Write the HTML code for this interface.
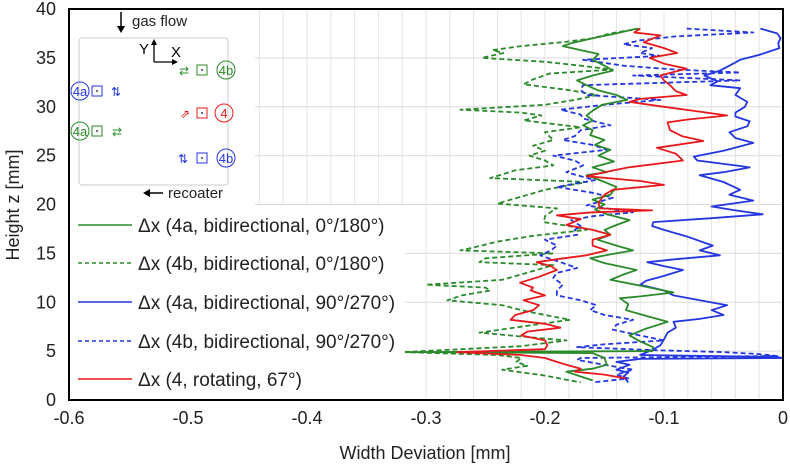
<!DOCTYPE html>
<html><head><meta charset="utf-8"><style>
html,body{margin:0;padding:0;background:#fff}
svg{display:block;font-family:"Liberation Sans",sans-serif}
</style></head><body>
<svg id="chart" width="790" height="467" viewBox="0 0 790 467">
<g id="grid"></g>
<g id="series"></g>
<rect x="70" y="10" width="185" height="195" fill="#fff"/>
<rect x="70" y="205" width="335" height="194" fill="#fff"/>
<g font-size="15">
  <rect x="79" y="38" width="149" height="147" rx="3" fill="none" stroke="#ccc"/>
  <line x1="121" y1="12" x2="121" y2="29" stroke="#000" stroke-width="1.5"/><path d="M117,26 L121,33 L125,26Z" fill="#000"/>
  <text x="132" y="26" fill="#222">gas flow</text>
  <line x1="148" y1="193" x2="163" y2="193" stroke="#000" stroke-width="1.5"/><path d="M150,189 L143,193 L150,197Z" fill="#000"/>
  <text x="168" y="198" fill="#222">recoater</text>
  <path d="M154,62 L154,44 M154,62 L173,62" stroke="#000" stroke-width="1.3" fill="none"/>
  <path d="M151,45 L154,39 L157,45Z M172,59 L178,62 L172,65Z" fill="#000"/>
  <text x="139" y="54">Y</text>
  <text x="171" y="57">X</text>
  <g fill="none" stroke-width="1">
    <circle cx="226" cy="70" r="9" stroke="#2a8a2a"/><rect x="197" y="65" width="10" height="10" stroke="#2a8a2a"/>
    <circle cx="80" cy="91" r="9" stroke="#2436e0"/><rect x="92" y="86" width="10" height="10" stroke="#2436e0"/>
    <circle cx="224" cy="113" r="9" stroke="#e8191d"/><rect x="197" y="108" width="10" height="10" stroke="#e8191d"/>
    <circle cx="80" cy="131" r="9" stroke="#2a8a2a"/><rect x="92" y="126" width="10" height="10" stroke="#2a8a2a"/>
    <circle cx="226" cy="158" r="9" stroke="#2436e0"/><rect x="197" y="153" width="10" height="10" stroke="#2436e0"/>
  </g>
  <g font-size="13">
    <text x="226" y="75" text-anchor="middle" fill="#2a8a2a">4b</text>
    <text x="80" y="96" text-anchor="middle" fill="#2436e0">4a</text>
    <text x="224" y="118" text-anchor="middle" fill="#e8191d">4</text>
    <text x="80" y="136" text-anchor="middle" fill="#2a8a2a">4a</text>
    <text x="226" y="163" text-anchor="middle" fill="#2436e0">4b</text>
    <text x="184" y="75" text-anchor="middle" fill="#2a8a2a" font-size="12">⇄</text>
    <text x="116" y="96" text-anchor="middle" fill="#2436e0" font-size="12">⇅</text>
    <text x="185" y="118" text-anchor="middle" fill="#e8191d" font-size="12">⇗</text>
    <text x="117" y="136" text-anchor="middle" fill="#2a8a2a" font-size="12">⇄</text>
    <text x="183" y="163" text-anchor="middle" fill="#2436e0" font-size="12">⇅</text>
  </g>
  <g fill="#444"><circle cx="202" cy="70" r="1"/><circle cx="97" cy="91" r="1"/><circle cx="202" cy="113" r="1"/><circle cx="97" cy="131" r="1"/><circle cx="202" cy="158" r="1"/></g>
</g>
<g id="legend" font-size="19" fill="#222">
  <g><line x1="78" y1="225" x2="132" y2="225" stroke="#2a8a2a" stroke-width="1.6"/><text x="138" y="232">Δx (4a, bidirectional, 0°/180°)</text></g>
  <g><line x1="78" y1="263" x2="132" y2="263" stroke="#2a8a2a" stroke-width="1.6" stroke-dasharray="4,3"/><text x="138" y="270">Δx (4b, bidirectional, 0°/180°)</text></g>
  <g><line x1="78" y1="302" x2="132" y2="302" stroke="#2436e0" stroke-width="1.6"/><text x="138" y="309">Δx (4a, bidirectional, 90°/270°)</text></g>
  <g><line x1="78" y1="341" x2="132" y2="341" stroke="#2436e0" stroke-width="1.6" stroke-dasharray="4,3"/><text x="138" y="348">Δx (4b, bidirectional, 90°/270°)</text></g>
  <g><line x1="78" y1="379" x2="132" y2="379" stroke="#e8191d" stroke-width="1.6"/><text x="138" y="386">Δx (4, rotating, 67°)</text></g>
</g>
<rect x="69" y="9" width="714" height="391" fill="none" stroke="#000" stroke-width="2"/>
<g id="axes" font-size="18" fill="#222"></g>
<text x="425" y="459" text-anchor="middle" font-size="18" fill="#222">Width Deviation [mm]</text>
<text transform="translate(19,205) rotate(-90)" text-anchor="middle" font-size="18" fill="#222">Height z [mm]</text>
</svg>
<script>
const xTicks=[-0.6,-0.5,-0.4,-0.3,-0.2,-0.1,0];
const xTickLabels=["-0.6","-0.5","-0.4","-0.3","-0.2","-0.1","0"];
const yTicks=[0,5,10,15,20,25,30,35,40];
const yTickLabels=["0","5","10","15","20","25","30","35","40"];
const green4a=[[38,-0.123],[37.5,-0.14],[37,-0.16],[36.5,-0.178],[36.2,-0.185],[35.8,-0.17],[35.4,-0.155],[34.8,-0.16],[34.2,-0.15],[33.7,-0.143],[33.2,-0.16],[32.7,-0.173],[32.2,-0.165],[31.7,-0.156],[31.2,-0.14],[30.7,-0.131],[30.2,-0.152],[29.6,-0.16],[29.1,-0.165],[28.6,-0.16],[28.1,-0.168],[27.6,-0.16],[27.1,-0.162],[26.6,-0.15],[26.1,-0.158],[25.6,-0.145],[25,-0.155],[24.4,-0.142],[23.8,-0.16],[23.3,-0.148],[23,-0.165],[22.4,-0.152],[21.8,-0.14],[21,-0.145],[20.5,-0.16],[20,-0.15],[19.5,-0.158],[19,-0.148],[18.4,-0.129],[17.9,-0.14],[17.4,-0.15],[16.9,-0.145],[16.4,-0.156],[15.8,-0.14],[15.3,-0.126],[14.9,-0.145],[14.5,-0.162],[14,-0.15],[13.3,-0.123],[12.8,-0.135],[12.3,-0.145],[11.7,-0.12],[11,-0.092],[10.6,-0.12],[10.4,-0.137],[9.8,-0.13],[9.2,-0.132],[8.6,-0.115],[8,-0.097],[7.3,-0.115],[6.6,-0.129],[6,-0.12],[5.4,-0.109],[5.0,-0.11],[4.9,-0.32],[4.8,-0.16],[4.3,-0.15],[3.6,-0.148],[3.2,-0.16],[2.9,-0.182],[2.4,-0.17],[2,-0.16]];
const green4b=[[38,-0.12],[37.5,-0.145],[37,-0.16],[36.6,-0.185],[36.2,-0.22],[35.8,-0.244],[35.5,-0.235],[35,-0.253],[34.6,-0.2],[34.2,-0.17],[33.8,-0.143],[33.4,-0.196],[32.8,-0.21],[32.3,-0.218],[31.7,-0.18],[31.2,-0.156],[30.7,-0.175],[30.2,-0.2],[29.7,-0.271],[29.4,-0.22],[29.1,-0.203],[28.6,-0.218],[27.9,-0.17],[27.4,-0.2],[26.6,-0.193],[26,-0.21],[25.5,-0.2],[25,-0.213],[24.5,-0.2],[24,-0.193],[23.5,-0.225],[22.7,-0.246],[22.3,-0.165],[21.5,-0.2],[20.8,-0.22],[20.1,-0.24],[19.6,-0.19],[19.4,-0.193],[18.8,-0.2],[18.2,-0.201],[17.8,-0.18],[17.4,-0.165],[16.8,-0.21],[16.2,-0.24],[15.6,-0.26],[15.3,-0.271],[15,-0.193],[14.5,-0.25],[14.1,-0.255],[13.8,-0.193],[13.2,-0.21],[12.3,-0.236],[11.8,-0.3],[11.5,-0.25],[11.2,-0.246],[10.7,-0.27],[10.2,-0.282],[9.7,-0.236],[9.2,-0.22],[8.7,-0.2],[8.2,-0.179],[7.5,-0.22],[6.9,-0.255],[6.5,-0.22],[6.1,-0.182],[5.5,-0.22],[4.9,-0.32],[4.6,-0.24],[4.3,-0.22],[3.9,-0.224],[3.5,-0.215],[3.1,-0.236],[2.5,-0.2],[1.8,-0.17]];
const blue4a=[[38,-0.019],[37.5,-0.005],[37,-0.002],[36.5,-0.004],[36,-0.003],[35.3,-0.02],[34.8,-0.036],[34.2,-0.045],[33.7,-0.053],[33.2,-0.066],[32.6,-0.055],[32.2,-0.061],[31.9,-0.036],[31.2,-0.04],[30.5,-0.03],[30,-0.032],[29.4,-0.04],[29,-0.04],[28.5,-0.028],[28,-0.03],[27.4,-0.045],[26.8,-0.04],[26.3,-0.025],[25.5,-0.05],[24.9,-0.075],[24.5,-0.072],[24,-0.04],[23.8,-0.028],[23.3,-0.05],[23,-0.07],[22.3,-0.05],[21.5,-0.036],[21,-0.045],[20.4,-0.025],[19.8,-0.06],[19.4,-0.04],[19,-0.017],[18.6,-0.06],[18.2,-0.109],[17.8,-0.11],[17.4,-0.1],[16.7,-0.08],[15.8,-0.059],[15.3,-0.07],[14.8,-0.053],[14.4,-0.09],[14.1,-0.114],[13.7,-0.1],[13.3,-0.084],[12.7,-0.1],[12.2,-0.115],[11.8,-0.12],[11.2,-0.1],[10.7,-0.092],[10.2,-0.07],[9.7,-0.047],[9.2,-0.06],[8.7,-0.05],[8.3,-0.07],[8,-0.092],[7.4,-0.09],[6.9,-0.097],[6.2,-0.1],[5.6,-0.103],[5.1,-0.11],[4.6,-0.12],[4.4,-0.005],[4.3,0],[4.2,-0.12],[3.9,-0.14],[3.6,-0.129],[3.1,-0.14],[2.8,-0.13],[2.4,-0.134],[1.8,-0.13]];
const blue4b=[[38,-0.081],[37.6,-0.025],[37.2,-0.09],[36.8,-0.12],[36.4,-0.134],[36,-0.11],[35.5,-0.12],[35.2,-0.103],[34.8,-0.168],[34.2,-0.134],[33.8,-0.09],[33.5,-0.036],[33.2,-0.126],[32.7,-0.036],[32.2,-0.168],[31.7,-0.17],[31.2,-0.165],[30.7,-0.103],[30.2,-0.15],[29.7,-0.187],[29.2,-0.17],[28.8,-0.168],[28.1,-0.145],[27.6,-0.17],[27,-0.175],[26.6,-0.185],[26.1,-0.16],[25.6,-0.148],[25,-0.193],[24.5,-0.175],[24,-0.168],[23.3,-0.182],[22.9,-0.17],[22.5,-0.158],[21.8,-0.19],[21.2,-0.16],[20.7,-0.143],[19.9,-0.165],[19.2,-0.126],[18.8,-0.16],[18.4,-0.178],[17.8,-0.17],[17.4,-0.175],[16.9,-0.173],[16.4,-0.2],[15.8,-0.19],[15.3,-0.195],[14.8,-0.204],[14.1,-0.187],[13.5,-0.173],[13,-0.19],[12.5,-0.193],[11.8,-0.185],[11.2,-0.19],[10.7,-0.19],[10.2,-0.17],[9.7,-0.157],[9.2,-0.162],[8.7,-0.15],[8.2,-0.126],[7.7,-0.14],[7.2,-0.143],[6.6,-0.12],[6.1,-0.1],[5.7,-0.15],[5.4,-0.173],[5.1,-0.11],[4.9,-0.05],[4.7,-0.02],[4.5,-0.005],[4.3,-0.17],[4.1,-0.173],[3.6,-0.15],[3.1,-0.126],[2.6,-0.14],[2.2,-0.13],[1.8,-0.16]];
const red4=[[38,-0.12],[37.6,-0.125],[37.3,-0.103],[36.6,-0.117],[36,-0.1],[35.5,-0.089],[35,-0.112],[34.4,-0.1],[33.9,-0.081],[33.2,-0.103],[32.7,-0.1],[32.2,-0.095],[31.6,-0.09],[31.2,-0.081],[30.8,-0.12],[30.5,-0.129],[30,-0.1],[29.5,-0.07],[29.1,-0.047],[28.7,-0.08],[28.4,-0.097],[27.6,-0.095],[27,-0.085],[26.5,-0.067],[25.8,-0.106],[25.2,-0.09],[24.5,-0.084],[23.8,-0.13],[23.3,-0.15],[22.9,-0.165],[22.4,-0.12],[22,-0.1],[21.5,-0.143],[21,-0.15],[20.2,-0.155],[19.6,-0.154],[19.4,-0.11],[19.2,-0.16],[18.9,-0.19],[18.5,-0.17],[17.9,-0.182],[17.4,-0.16],[16.9,-0.145],[16.4,-0.16],[15.8,-0.16],[15.3,-0.148],[14.8,-0.165],[14.4,-0.19],[14.1,-0.207],[13.7,-0.195],[13.3,-0.19],[12.6,-0.205],[12,-0.221],[11.5,-0.21],[11.2,-0.212],[10.7,-0.2],[10.2,-0.218],[9.7,-0.205],[9.2,-0.21],[8.7,-0.225],[8.2,-0.229],[7.8,-0.2],[7.4,-0.187],[7,-0.215],[6.6,-0.22],[6.1,-0.2],[5.6,-0.198],[5.2,-0.2],[4.9,-0.274],[4.6,-0.22],[4.3,-0.2],[3.9,-0.19],[3.6,-0.182],[3.2,-0.17],[2.9,-0.175],[2.6,-0.15],[2.2,-0.132]];

const NS="http://www.w3.org/2000/svg";
const X0=69,X1=783,Y0=400,Y1=9;
function xs(v){return X0+(v+0.6)/0.6*(X1-X0);}
function ys(z){return Y0-z/40*(Y0-Y1);}
const grid=document.getElementById('grid');
for(let i=1;i<30;i++){
  const v=-0.6+i*0.02;
  const l=document.createElementNS(NS,'line');
  l.setAttribute('x1',xs(v));l.setAttribute('x2',xs(v));l.setAttribute('y1',Y1);l.setAttribute('y2',Y0);
  l.setAttribute('stroke','#e3e3e3');l.setAttribute('stroke-width','1');
  
  
  grid.appendChild(l);
}
yTicks.forEach(function(t){
  const l=document.createElementNS(NS,'line');
  l.setAttribute('x1',X0);l.setAttribute('x2',X1);l.setAttribute('y1',ys(t));l.setAttribute('y2',ys(t));
  l.setAttribute('stroke','#dcdcdc');l.setAttribute('stroke-width','1');
  
  
  grid.appendChild(l);
});
const axes=document.getElementById('axes');
xTicks.forEach(function(t,i){
  const tx=document.createElementNS(NS,'text');
  tx.setAttribute('x',xs(t));tx.setAttribute('y',424);tx.setAttribute('text-anchor','middle');
  tx.textContent=xTickLabels[i];
  
  
  axes.appendChild(tx);
});
yTicks.forEach(function(t,i){
  const tx=document.createElementNS(NS,'text');
  tx.setAttribute('x',56);tx.setAttribute('y',ys(t)+6);tx.setAttribute('text-anchor','end');
  tx.textContent=yTickLabels[i];
  
  
  axes.appendChild(tx);
});
const series=document.getElementById('series');
function draw(data,color,dash,name){
  const p=document.createElementNS(NS,'polyline');
  p.setAttribute('points',data.map(function(d){return xs(d[1]).toFixed(1)+','+ys(d[0]).toFixed(1);}).join(' '));
  p.setAttribute('fill','none');p.setAttribute('stroke',color);p.setAttribute('stroke-width','1.8');
  p.setAttribute('stroke-linejoin','round');
  if(dash)p.setAttribute('stroke-dasharray','5,3');
  
  
  series.appendChild(p);
}
draw(green4b,'#2a8a2a',true,'series-4b-0-180');
draw(blue4b,'#2436e0',true,'series-4b-90-270');
draw(blue4a,'#2436e0',false,'series-4a-90-270');
draw(green4a,'#2a8a2a',false,'series-4a-0-180');
draw(red4,'#e8191d',false,'series-4-rotating');
</script>
</body></html>
